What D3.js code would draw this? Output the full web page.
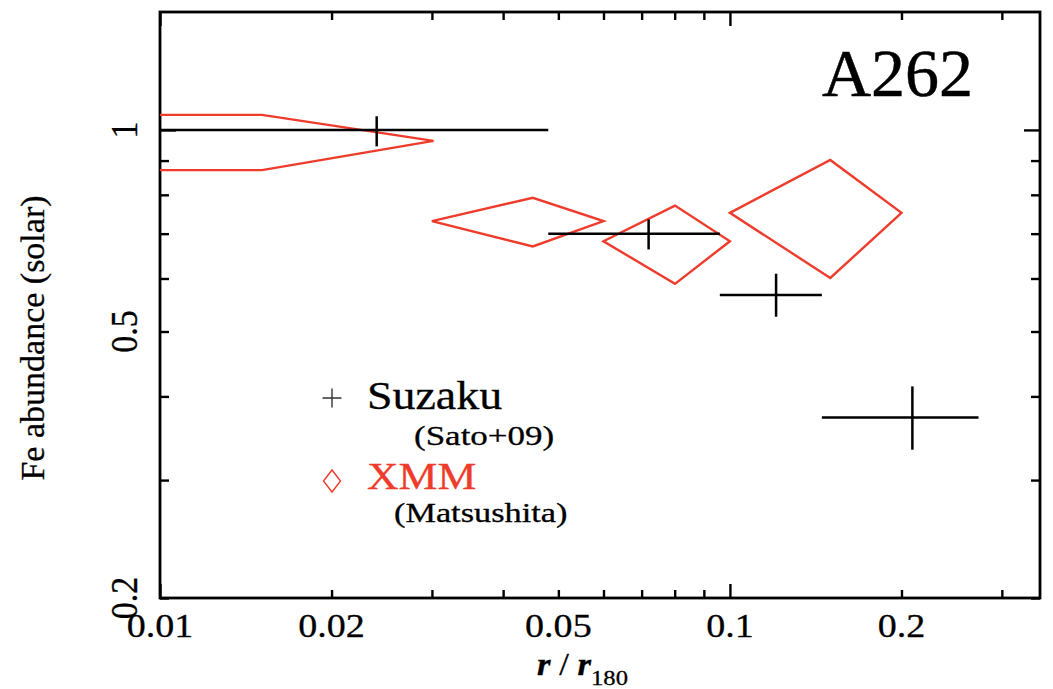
<!DOCTYPE html>
<html><head><meta charset="utf-8">
<script src="https://cdn.jsdelivr.net/npm/d3@7"></script>
<style>html,body{margin:0;padding:0;background:#fff}svg{display:block}</style>
</head><body><svg id="chart" width="1053" height="689"></svg>
<script>
// Suzaku (Sato+09): radial bins in r/r180 and Fe abundance with errors
const suzakuR    = [0.024, 0.072, 0.1205, 0.209];
const suzakuRlo  = [0,     0.048, 0.096,  0.145];
const suzakuRhi  = [0.048, 0.096, 0.145,  0.273];
const suzakuFe   = [1.00,  0.70,  0.567,  0.372];
const suzakuFeLo = [0.945, 0.663, 0.526,  0.333];
const suzakuFeHi = [1.048, 0.735, 0.610,  0.414];

// XMM (Matsushita): radial bins and Fe abundance ranges
const xmmR    = [0.0151, 0.0451, 0.0801, 0.150];
const xmmRlo  = [0,      0.030,  0.060,  0.100];
const xmmRhi  = [0.0302, 0.060,  0.100,  0.200];
const xmmFe   = [0.963,  0.731,  0.682,  0.752];
const xmmFeLo = [0.871,  0.670,  0.589,  0.601];
const xmmFeHi = [1.053,  0.792,  0.771,  0.902];

// Axis ticks
const xTicks  = [0.01, 0.02, 0.03, 0.04, 0.05, 0.06, 0.07, 0.08, 0.09, 0.1, 0.2, 0.3];
const xMajor  = [0.01, 0.1];
const xLabels = [0.01, 0.02, 0.05, 0.1, 0.2];
const yTicks  = [0.2, 0.3, 0.4, 0.5, 0.6, 0.7, 0.8, 0.9, 1];
const yMajor  = [1];
const yLabels = [0.2, 0.5, 1];

const title = "A262";
const legendNames = ["Suzaku", "XMM"];
const legendRefs = ["(Sato+09)", "(Matsushita)"];

const RED = "#ee3b2b";
const FONT = "'Liberation Serif', 'Times New Roman', serif";
const SX = 1.12;   // horizontal glyph stretch
const SX2 = 1.27;  // stretch for the small reference lines
const TXT_STROKE = 0.3;

const svg = d3.select("#chart");
const L = 160, R = 1040, T = 12, B = 598;

const x = d3.scaleLog().domain([0.01, 0.35]).range([L, R]);
const y = d3.scaleLog().domain([0.2, 1.5]).range([B, T]);

svg.append("defs").append("clipPath").attr("id", "plotclip")
  .append("rect").attr("x", L).attr("y", T).attr("width", R - L).attr("height", B - T);

// ticks on all four sides, pointing inward
function styleAxis(g) {
  g.select(".domain").remove();
  g.selectAll(".tick line").attr("stroke", "#000").attr("stroke-width", 2.4);
  g.selectAll(".tick text").remove();
}
const minorX = 8, majorX = 14, minorY = 9, majorY = 16;

const gB = svg.append("g").attr("transform", `translate(0,${B})`)
  .call(d3.axisBottom(x).tickValues(xTicks).tickSize(-minorX).tickSizeOuter(0).tickFormat(""));
styleAxis(gB);
gB.selectAll(".tick line").filter(d => xMajor.includes(d)).attr("y2", -majorX);

const gT = svg.append("g").attr("transform", `translate(0,${T})`)
  .call(d3.axisTop(x).tickValues(xTicks).tickSize(-minorX).tickSizeOuter(0).tickFormat(""));
styleAxis(gT);
gT.selectAll(".tick line").filter(d => xMajor.includes(d)).attr("y2", majorX);

const gL = svg.append("g").attr("transform", `translate(${L},0)`)
  .call(d3.axisLeft(y).tickValues(yTicks).tickSize(-minorY).tickSizeOuter(0).tickFormat(""));
styleAxis(gL);
gL.selectAll(".tick line").filter(d => yMajor.includes(d)).attr("x2", majorY);

const gR = svg.append("g").attr("transform", `translate(${R},0)`)
  .call(d3.axisRight(y).tickValues(yTicks).tickSize(-minorY).tickSizeOuter(0).tickFormat(""));
styleAxis(gR);
gR.selectAll(".tick line").filter(d => yMajor.includes(d)).attr("x2", -majorY);

// frame
svg.append("rect").attr("x", L).attr("y", T).attr("width", R - L).attr("height", B - T)
  .attr("fill", "none").attr("stroke", "#000").attr("stroke-width", 2.8);

// tick labels
svg.append("g").selectAll("text").data(xLabels).join("text")
  .attr("transform", d => `translate(${x(d)},637) scale(${SX},1)`)
  .attr("text-anchor", "middle")
  .attr("font-family", FONT).attr("font-size", 34).attr("fill", "#000")
  .attr("stroke", "#000").attr("stroke-width", TXT_STROKE)
  .text(d => String(d));

svg.append("g").selectAll("text").data(yLabels).join("text")
  .attr("transform", d => `translate(137,${y(d)}) scale(${SX},1) rotate(-90)`)
  .attr("text-anchor", "middle")
  .attr("font-family", FONT).attr("font-size", 34).attr("fill", "#000")
  .attr("stroke", "#000").attr("stroke-width", TXT_STROKE)
  .text(d => String(d));

// axis titles
svg.append("text")
  .attr("transform", `translate(44,338) rotate(-90)`)
  .attr("text-anchor", "middle")
  .attr("font-family", FONT).attr("font-size", 34).attr("fill", "#000")
  .attr("stroke", "#000").attr("stroke-width", TXT_STROKE)
  .text("Fe abundance (solar)");

const xt = svg.append("text")
  .attr("transform", `translate(537,675) scale(${SX},1)`)
  .attr("font-family", FONT).attr("font-size", 31).attr("fill", "#000")
  .attr("stroke", "#000").attr("stroke-width", TXT_STROKE);
xt.append("tspan").attr("font-style", "italic").attr("font-weight", "bold").text("r");
xt.append("tspan").text(" / ");
xt.append("tspan").attr("font-style", "italic").attr("font-weight", "bold").text("r");
xt.append("tspan").attr("font-size", 22).attr("dy", 10).text("180");

// cluster name
svg.append("text").attr("x", 822).attr("y", 96)
  .attr("font-family", FONT).attr("font-size", 68).attr("fill", "#000")
  .attr("stroke", "#000").attr("stroke-width", 0.5)
  .text(title);

// data marks
const plot = svg.append("g").attr("clip-path", "url(#plotclip)");
const xMin = x.domain()[0];

// XMM diamonds: left / top / right / bottom vertices from bin edges and abundance range
const xmmIdx = d3.range(xmmR.length);
plot.append("g").selectAll("path").data(xmmIdx).join("path")
  .attr("d", i => {
    const xc = x(xmmR[i]), xh = x(xmmRhi[i]);
    const yc = y(xmmFe[i]), yh = y(xmmFeHi[i]), yl = y(xmmFeLo[i]);
    if (xmmRlo[i] <= xMin) {
      const x0 = x(xMin) - 4;
      return `M${x0},${yh}L${xc},${yh}L${xh},${yc}L${xc},${yl}L${x0},${yl}`;
    }
    const xl = x(xmmRlo[i]);
    return `M${xl},${yc}L${xc},${yh}L${xh},${yc}L${xc},${yl}Z`;
  })
  .attr("fill", "none").attr("stroke", RED).attr("stroke-width", 2.4)
  .attr("stroke-linejoin", "miter");

// Suzaku crosses: horizontal bin extent and vertical error bar
const szIdx = d3.range(suzakuR.length);
const sz = plot.append("g").attr("stroke", "#000").attr("stroke-width", 2.5);
sz.selectAll("line.h").data(szIdx).join("line").attr("class", "h")
  .attr("x1", i => x(Math.max(suzakuRlo[i], xMin)) - (suzakuRlo[i] <= xMin ? 4 : 0))
  .attr("x2", i => x(suzakuRhi[i]))
  .attr("y1", i => y(suzakuFe[i])).attr("y2", i => y(suzakuFe[i]));
sz.selectAll("line.v").data(szIdx).join("line").attr("class", "v")
  .attr("x1", i => x(suzakuR[i])).attr("x2", i => x(suzakuR[i]))
  .attr("y1", i => y(suzakuFeLo[i])).attr("y2", i => y(suzakuFeHi[i]));

// legend
const lg = svg.append("g");
const lx = 332;
lg.append("path").attr("d", `M${lx - 9.5},398H${lx + 9.5}M${lx},388.5V407.5`)
  .attr("stroke", "#333").attr("stroke-width", 1.4).attr("fill", "none");
lg.append("path").attr("d", `M${lx - 8.5},481L${lx},470L${lx + 8.5},481L${lx},492Z`)
  .attr("stroke", RED).attr("stroke-width", 1.4).attr("fill", "none");

function stretchedText(g, tx, ty, size, sx, color, str) {
  return g.append("text").attr("transform", `translate(${tx},${ty}) scale(${sx},1)`)
    .attr("font-family", FONT).attr("font-size", size).attr("fill", color)
    .attr("stroke", color).attr("stroke-width", TXT_STROKE).text(str);
}
stretchedText(lg, 367, 409, 41, SX, "#000", legendNames[0]);
stretchedText(lg, 414, 445, 28, 1.25, "#000", legendRefs[0]);
stretchedText(lg, 367, 489, 38, 1.15, RED, legendNames[1]);
stretchedText(lg, 394, 522, 27, SX2, "#000", legendRefs[1]);
</script>
</body></html>
